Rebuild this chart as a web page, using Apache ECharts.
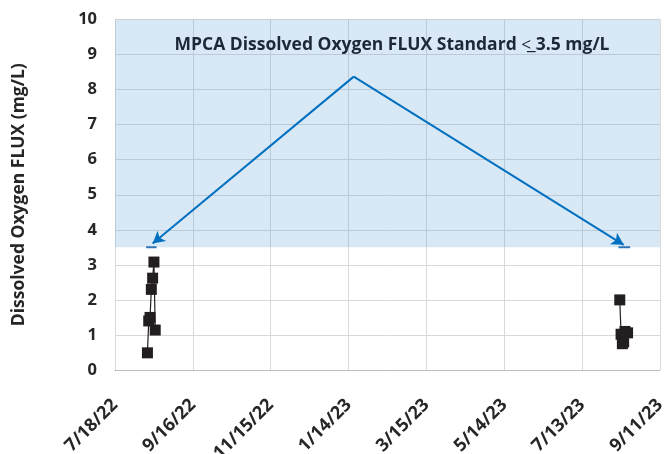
<!DOCTYPE html>
<html>
<head>
<meta charset="utf-8">
<script src="https://cdn.jsdelivr.net/npm/echarts@6/dist/echarts.min.js"></script>
<style>
  html, body { margin: 0; padding: 0; background: #fff; }
  #main { width: 665px; height: 454px; }
</style>
</head>
<body>
<div id="main"></div>
<script>
// sample dates and dissolved oxygen flux (mg/L)
var doDates = ['8/12/22','8/13/22','8/14/22','8/15/22','8/16/22','8/17/22','8/18/22',
               '8/11/23','8/12/23','8/13/23','8/14/23','8/15/23','8/17/23'];
var doValues = [0.49, 1.40, 1.50, 2.30, 2.62, 3.08, 1.14,
                2.00, 1.02, 0.75, 0.80, 1.10, 1.06];
// where each sampling season starts (breaks the line between years)
var seasonBreak = 7;

// standard line segments (3.5 mg/L)
var standardDates = [['8/11/22','8/19/22'], ['8/10/23','8/19/23']];
var standardValue = 3.5;

// arrows from the label to the standard segments
var arrowFrom = ['1/18/23', 8.37];
var arrowTo = [['8/16/22', 3.61], ['8/14/23', 3.57]];

var axisStart = '7/18/22';
var yTicks = [0,1,2,3,4,5,6,7,8,9,10];

function toDay(s){
    var p = s.split('/');
    var t = Date.UTC(2000 + parseInt(p[2]), parseInt(p[0]) - 1, parseInt(p[1]));
    var p0 = axisStart.split('/');
    var t0 = Date.UTC(2000 + parseInt(p0[2]), parseInt(p0[0]) - 1, parseInt(p0[1]));
    return Math.round((t - t0) / 86400000);
}
function dayLabel(d){
    var p0 = axisStart.split('/');
    var t = new Date(Date.UTC(2000 + parseInt(p0[2]), parseInt(p0[0]) - 1, parseInt(p0[1])) + d * 86400000);
    return (t.getUTCMonth() + 1) + '/' + t.getUTCDate() + '/' + String(t.getUTCFullYear()).slice(2);
}

var doData = [];
for(var i = 0; i < doDates.length; i++){
    if(i == seasonBreak){
        doData.push([toDay(doDates[i]) - 1, '-']);
    }
    doData.push([toDay(doDates[i]), doValues[i]]);
}
var stdData = [];
for(var j = 0; j < standardDates.length; j++){
    if(j > 0) stdData.push([toDay(standardDates[j][0]) - 1, '-']);
    stdData.push([toDay(standardDates[j][0]), standardValue]);
    stdData.push([toDay(standardDates[j][1]), standardValue]);
}
var arrowLines = [];
for(var k = 0; k < arrowTo.length; k++){
    arrowLines.push([
        {coord: [toDay(arrowFrom[0]), arrowFrom[1]]},
        {coord: [toDay(arrowTo[k][0]), arrowTo[k][1]]}
    ]);
}

var myChart = echarts.init(document.getElementById('main'));
var font = 'Open Sans';
var option = {
    animation: false,
    backgroundColor: '#fff',
    title: {
        text: 'MPCA Dissolved Oxygen FLUX Standard <\u0332 3.5 mg/L',
        left: 387,
        top: 31,
        textAlign: 'center',
        textStyle: {fontFamily: font, fontWeight: 'bold', fontSize: 17.5, color: '#1C2738'}
    },
    grid: {left: 115, right: 5, top: 19.5, bottom: 84, outerBoundsMode: 'none', containLabel: false},
    xAxis: {
        type: 'value',
        min: 0,
        max: 420,
        interval: 60,
        axisLine: {show: true, lineStyle: {color: '#BFBFBF', width: 1}},
        axisTick: {show: false},
        splitLine: {show: true, lineStyle: {color: '#D9D9D9', width: 1}},
        axisLabel: {
            rotate: 45,
            margin: 32,
            fontFamily: font,
            fontWeight: 'bold',
            fontSize: 18,
            color: '#262626',
            formatter: function(v){ return dayLabel(v); }
        }
    },
    yAxis: {
        type: 'value',
        min: yTicks[0],
        max: yTicks[yTicks.length - 1],
        interval: 1,
        name: 'Dissolved Oxygen FLUX (mg/L)',
        nameLocation: 'middle',
        nameGap: 87,
        nameTextStyle: {fontFamily: font, fontWeight: 'bold', fontSize: 17.5, color: '#262626'},
        axisLine: {show: false},
        axisTick: {show: false},
        splitLine: {show: true, lineStyle: {color: '#D9D9D9', width: 1}},
        axisLabel: {margin: 18, fontFamily: font, fontWeight: 'bold', fontSize: 16.5, color: '#262626'}
    },
    series: [
        {
            type: 'line',
            data: [],
            z: 1,
            silent: true,
            markArea: {
                silent: true,
                itemStyle: {color: 'rgba(91,155,213,0.23)'},
                data: [[{yAxis: standardValue}, {yAxis: yTicks[yTicks.length - 1]}]]
            }
        },
        {
            name: 'Standard',
            type: 'line',
            data: stdData,
            showSymbol: false,
            connectNulls: false,
            lineStyle: {color: '#2E75B6', width: 2},
            z: 3,
            markLine: {
                silent: true,
                symbol: ['none', 'arrow'],
                symbolSize: [10, 12],
                label: {show: false},
                lineStyle: {color: '#0070C0', width: 2, type: 'solid'},
                data: arrowLines
            }
        },
        {
            name: 'DO FLUX',
            type: 'line',
            data: doData,
            symbol: 'rect',
            symbolSize: 11,
            connectNulls: false,
            itemStyle: {color: '#231F20'},
            lineStyle: {color: '#231F20', width: 1.2},
            z: 4
        }
    ]
};
myChart.setOption(option);
</script>
</body>
</html>
